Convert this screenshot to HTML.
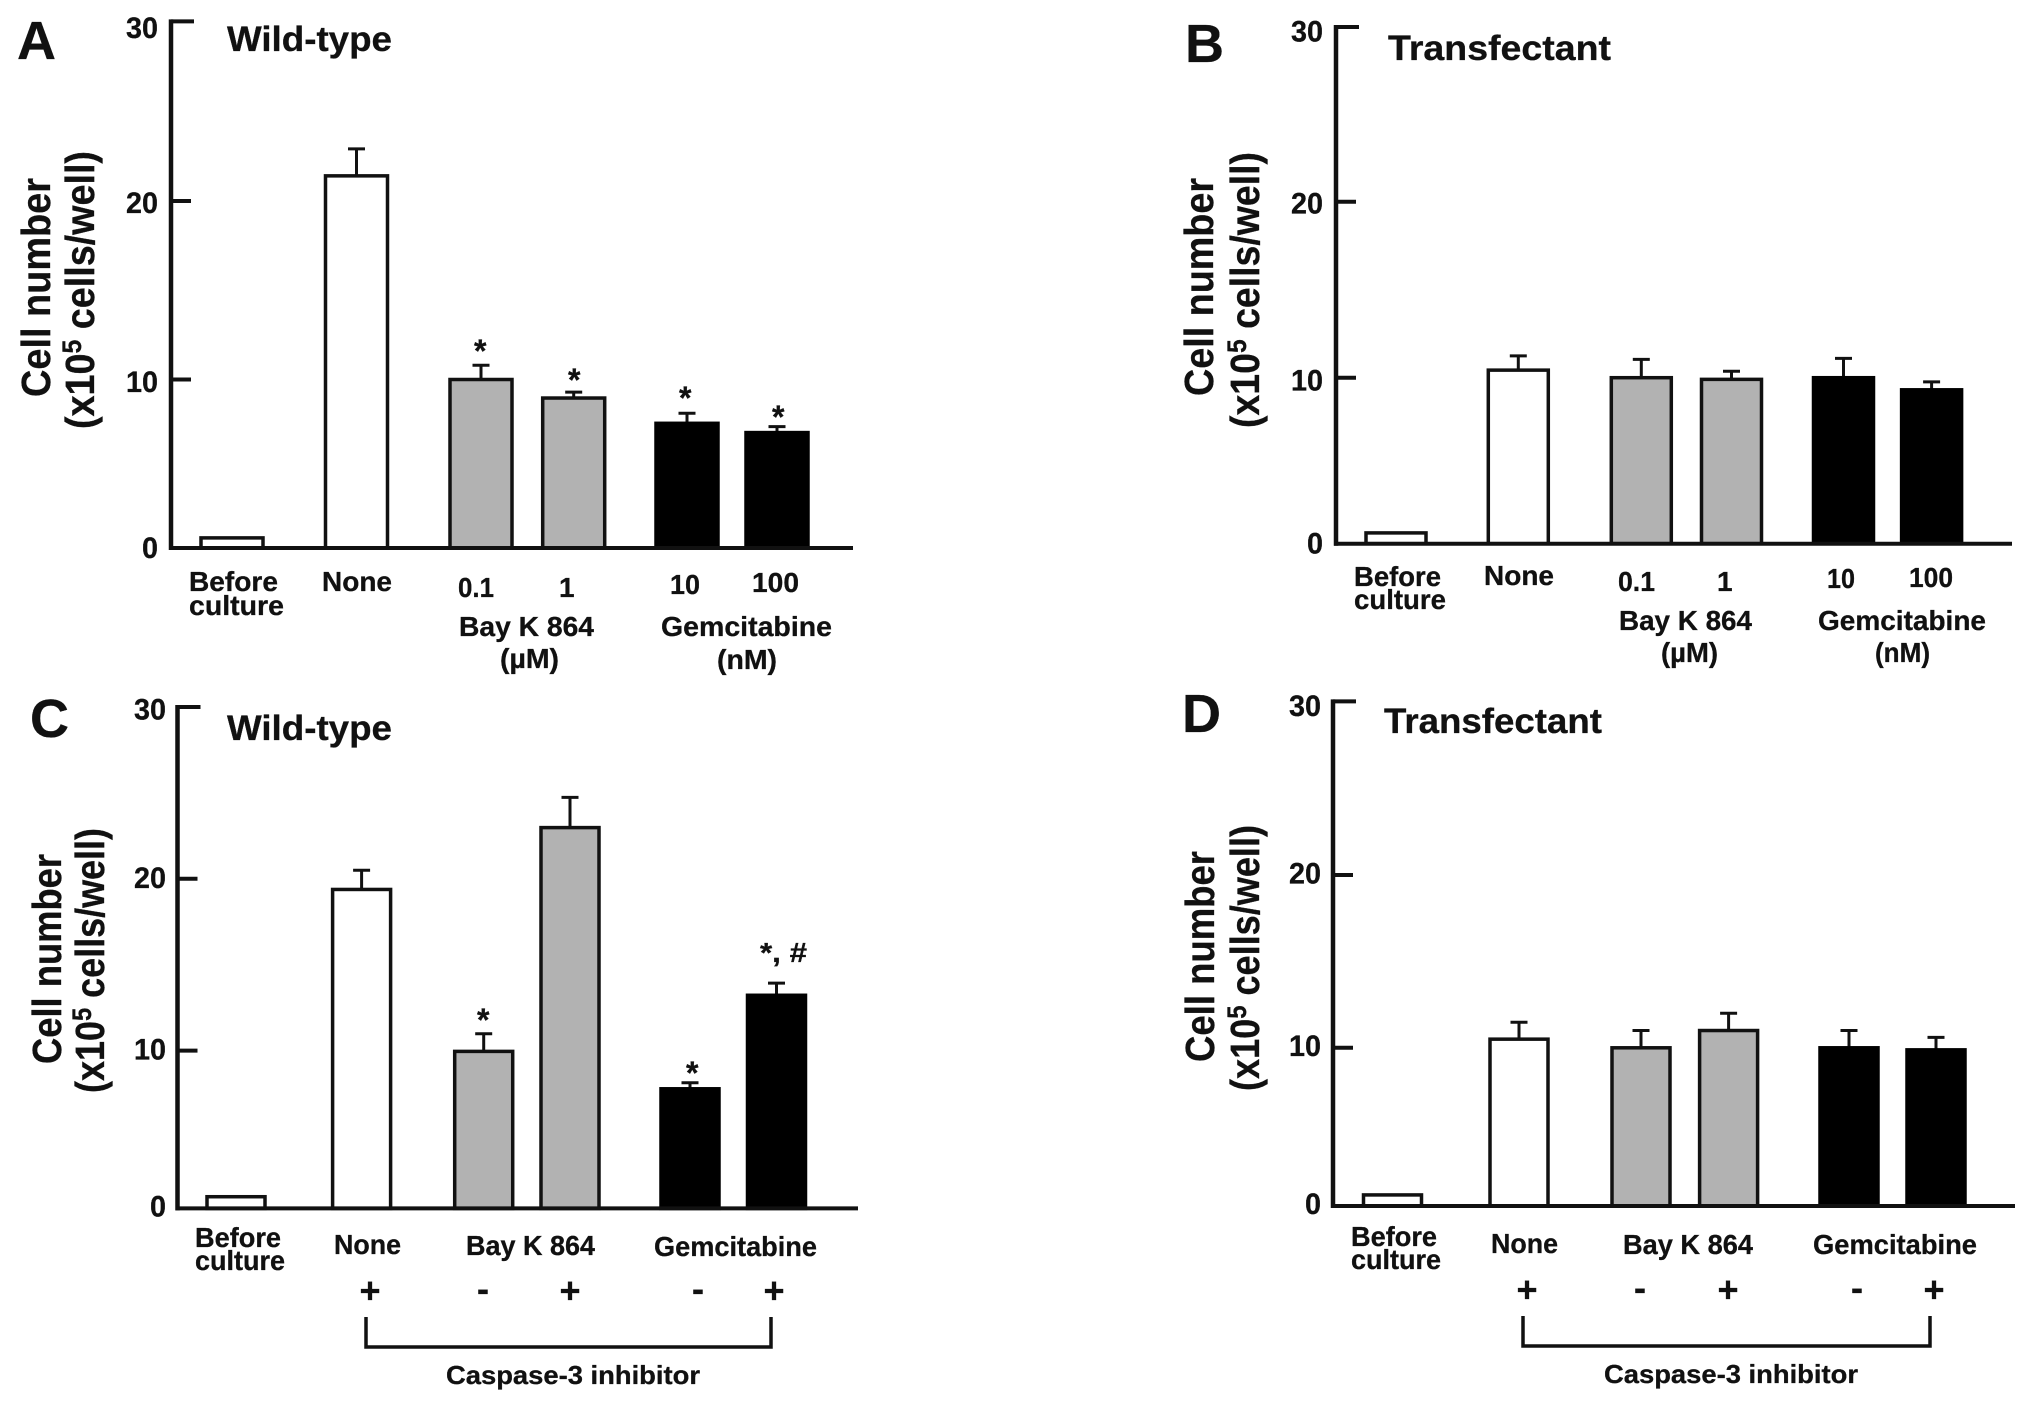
<!DOCTYPE html>
<html lang="en">
<head>
<meta charset="utf-8">
<title>Cell number bar charts</title>
<style>
html,body{margin:0;padding:0;background:#fff;width:2031px;height:1410px;overflow:hidden}
svg{display:block}
text{font-family:"Liberation Sans",Arial,sans-serif;font-weight:700;fill:#111;stroke:#111;stroke-width:.3px}
.lab{font-size:28px}
.ttl{font-size:35px}
.let{font-size:54px}
.yt{font-size:41px}
.cas{font-size:26px}
.sig{font-size:32px}
.sgn{font-size:36px;text-anchor:middle}
</style>
</head>
<body>
<svg id="figure" width="2031" height="1410" viewBox="0 0 2031 1410" xmlns="http://www.w3.org/2000/svg">
  <g id="marks"></g>

  <!-- Panel A -->
  <g>
    <text class="let" x="17" y="59">A</text>
    <text class="ttl" x="227" y="51" textLength="165" lengthAdjust="spacingAndGlyphs">Wild-type</text>
    <text class="yt" transform="translate(50,397) rotate(-90)" textLength="219" lengthAdjust="spacingAndGlyphs">Cell number</text>
    <text class="yt" transform="translate(94,429) rotate(-90)" textLength="278" lengthAdjust="spacingAndGlyphs">(x10<tspan font-size="27" dy="-13">5</tspan><tspan dy="13"> cells/well)</tspan></text>
    <text class="lab" x="189" y="591" textLength="89" lengthAdjust="spacingAndGlyphs">Before</text>
    <text class="lab" x="189" y="615" textLength="95" lengthAdjust="spacingAndGlyphs">culture</text>
    <text class="lab" x="322" y="591" textLength="70" lengthAdjust="spacingAndGlyphs">None</text>
    <text class="lab" x="458" y="597" textLength="36" lengthAdjust="spacingAndGlyphs">0.1</text>
    <text class="lab" x="559" y="597">1</text>
    <text class="lab" x="670" y="594" textLength="30" lengthAdjust="spacingAndGlyphs">10</text>
    <text class="lab" x="752" y="592" textLength="47" lengthAdjust="spacingAndGlyphs">100</text>
    <text class="lab" x="459" y="636" textLength="135" lengthAdjust="spacingAndGlyphs">Bay K 864</text>
    <text class="lab" x="500" y="668" textLength="59" lengthAdjust="spacingAndGlyphs">(µM)</text>
    <text class="lab" x="661" y="636" textLength="171" lengthAdjust="spacingAndGlyphs">Gemcitabine</text>
    <text class="lab" x="717" y="669" textLength="60" lengthAdjust="spacingAndGlyphs">(nM)</text>
    <text class="sig" x="474" y="362">*</text>
    <text class="sig" x="568" y="391">*</text>
    <text class="sig" x="679" y="409">*</text>
    <text class="sig" x="772" y="428">*</text>
  </g>

  <!-- Panel B -->
  <g>
    <text class="let" x="1185" y="62">B</text>
    <text class="ttl" x="1388" y="60" textLength="223" lengthAdjust="spacingAndGlyphs">Transfectant</text>
    <text class="yt" transform="translate(1213,396) rotate(-90)" textLength="218" lengthAdjust="spacingAndGlyphs">Cell number</text>
    <text class="yt" transform="translate(1259,428) rotate(-90)" textLength="276" lengthAdjust="spacingAndGlyphs">(x10<tspan font-size="27" dy="-13">5</tspan><tspan dy="13"> cells/well)</tspan></text>
    <text class="lab" x="1354" y="586" textLength="87" lengthAdjust="spacingAndGlyphs">Before</text>
    <text class="lab" x="1354" y="609" textLength="92" lengthAdjust="spacingAndGlyphs">culture</text>
    <text class="lab" x="1484" y="585" textLength="70" lengthAdjust="spacingAndGlyphs">None</text>
    <text class="lab" x="1618" y="591" textLength="37" lengthAdjust="spacingAndGlyphs">0.1</text>
    <text class="lab" x="1717" y="591">1</text>
    <text class="lab" x="1827" y="588" textLength="28" lengthAdjust="spacingAndGlyphs">10</text>
    <text class="lab" x="1909" y="587" textLength="44" lengthAdjust="spacingAndGlyphs">100</text>
    <text class="lab" x="1619" y="630" textLength="133" lengthAdjust="spacingAndGlyphs">Bay K 864</text>
    <text class="lab" x="1661" y="662" textLength="57" lengthAdjust="spacingAndGlyphs">(µM)</text>
    <text class="lab" x="1818" y="630" textLength="168" lengthAdjust="spacingAndGlyphs">Gemcitabine</text>
    <text class="lab" x="1875" y="662" textLength="55" lengthAdjust="spacingAndGlyphs">(nM)</text>
  </g>

  <!-- Panel C -->
  <g>
    <text class="let" x="30" y="737">C</text>
    <text class="ttl" x="227" y="740" textLength="165" lengthAdjust="spacingAndGlyphs">Wild-type</text>
    <text class="yt" transform="translate(61,1064) rotate(-90)" textLength="210" lengthAdjust="spacingAndGlyphs">Cell number</text>
    <text class="yt" transform="translate(104,1093) rotate(-90)" textLength="265" lengthAdjust="spacingAndGlyphs">(x10<tspan font-size="27" dy="-13">5</tspan><tspan dy="13"> cells/well)</tspan></text>
    <text class="lab" x="195" y="1247" textLength="86" lengthAdjust="spacingAndGlyphs">Before</text>
    <text class="lab" x="195" y="1270" textLength="90" lengthAdjust="spacingAndGlyphs">culture</text>
    <text class="lab" x="334" y="1254" textLength="67" lengthAdjust="spacingAndGlyphs">None</text>
    <text class="lab" x="466" y="1255" textLength="129" lengthAdjust="spacingAndGlyphs">Bay K 864</text>
    <text class="lab" x="654" y="1256" textLength="163" lengthAdjust="spacingAndGlyphs">Gemcitabine</text>
    <text class="sgn" x="370" y="1303">+</text>
    <text class="sgn" x="483" y="1301">-</text>
    <text class="sgn" x="570" y="1303">+</text>
    <text class="sgn" x="698" y="1301">-</text>
    <text class="sgn" x="774" y="1303">+</text>
    <text class="cas" x="446" y="1384" textLength="254" lengthAdjust="spacingAndGlyphs">Caspase-3 inhibitor</text>
    <text class="sig" x="477" y="1031">*</text>
    <text class="sig" x="686" y="1084">*</text>
    <text class="sig" x="760" y="962" textLength="47" lengthAdjust="spacingAndGlyphs" style="font-size:28px">*, #</text>
  </g>

  <!-- Panel D -->
  <g>
    <text class="let" x="1182" y="732">D</text>
    <text class="ttl" x="1384" y="733" textLength="218" lengthAdjust="spacingAndGlyphs">Transfectant</text>
    <text class="yt" transform="translate(1214,1062) rotate(-90)" textLength="211" lengthAdjust="spacingAndGlyphs">Cell number</text>
    <text class="yt" transform="translate(1259,1091) rotate(-90)" textLength="266" lengthAdjust="spacingAndGlyphs">(x10<tspan font-size="27" dy="-13">5</tspan><tspan dy="13"> cells/well)</tspan></text>
    <text class="lab" x="1351" y="1246" textLength="86" lengthAdjust="spacingAndGlyphs">Before</text>
    <text class="lab" x="1351" y="1269" textLength="90" lengthAdjust="spacingAndGlyphs">culture</text>
    <text class="lab" x="1491" y="1253" textLength="67" lengthAdjust="spacingAndGlyphs">None</text>
    <text class="lab" x="1623" y="1254" textLength="130" lengthAdjust="spacingAndGlyphs">Bay K 864</text>
    <text class="lab" x="1813" y="1254" textLength="164" lengthAdjust="spacingAndGlyphs">Gemcitabine</text>
    <text class="sgn" x="1527" y="1302">+</text>
    <text class="sgn" x="1640" y="1300">-</text>
    <text class="sgn" x="1728" y="1302">+</text>
    <text class="sgn" x="1857" y="1300">-</text>
    <text class="sgn" x="1934" y="1302">+</text>
    <text class="cas" x="1604" y="1383" textLength="254" lengthAdjust="spacingAndGlyphs">Caspase-3 inhibitor</text>
  </g>
</svg>

<script>
// ---- chart data ----
const tickValues = [0, 10, 20, 30];
const tickLabels = ['0', '10', '20', '30'];
const barGroups = ['control', 'control', 'bay', 'bay', 'gem', 'gem'];
const valuesA = [0.6, 21.4, 10.0, 8.9, 7.4, 6.85];
const errorsA = [0, 1.5, 0.8, 0.35, 0.6, 0.35];
const valuesB = [0.65, 10.43, 10.0, 9.9, 10.0, 9.27];
const errorsB = [0, 0.81, 1.04, 0.47, 1.1, 0.48];
const valuesC = [0.74, 19.38, 9.95, 22.98, 7.58, 13.22];
const errorsC = [0, 1.12, 1.03, 1.76, 0.38, 0.71];
const valuesD = [0.7, 10.5, 10.0, 11.0, 10.0, 9.87];
const errorsD = [0, 0.98, 1.0, 1.0, 1.0, 0.73];

// ---- layout (kept apart from the data) ----
const fills = { control: '#ffffff', bay: '#b2b2b2', gem: '#000000' };
const panels = [
  { id: 'a', values: valuesA, errors: errorsA, axisX: 171, axisEnd: 853,
    axisPx: [548, 379.5, 201, 21.4], labelBase: [558, 392, 213, 38], labelX: 158,
    slots: [232, 356.5, 481, 573.7, 687, 777], barW: 62 },
  { id: 'b', values: valuesB, errors: errorsB, axisX: 1336, axisEnd: 2012,
    axisPx: [543.7, 377.7, 201.8, 27], labelBase: [553.6, 390.6, 213.4, 41.5], labelX: 1323,
    slots: [1396, 1518.3, 1641.3, 1731.5, 1843.5, 1931.6], barW: 60 },
  { id: 'c', values: valuesC, errors: errorsC, axisX: 177.5, axisEnd: 858,
    axisPx: [1208.4, 1050.6, 878.8, 707], labelBase: [1216.3, 1059.4, 888, 719.6], labelX: 166,
    slots: [236, 361.6, 483.7, 570, 690, 776.5], barW: 58 },
  { id: 'd', values: valuesD, errors: errorsD, axisX: 1333, axisEnd: 2015,
    axisPx: [1206, 1047.8, 875, 701.4], labelBase: [1214, 1056, 883.4, 716], labelX: 1321,
    slots: [1392.5, 1519, 1641, 1728.6, 1849, 1936], barW: 58 }
];
const brackets = [
  { left: 366, right: 771, top: 1317, bottom: 1347 },
  { left: 1523, right: 1930, top: 1316, bottom: 1346 }
];

const NS = 'http://www.w3.org/2000/svg';
const root = document.getElementById('marks');

function make(tag, parent, attrs) {
  const node = document.createElementNS(NS, tag);
  for (const k in attrs) node.setAttribute(k, attrs[k]);
  parent.appendChild(node);
  return node;
}

// piecewise-linear value axis: the printed axis has unequal tick spacing
function yScale(panel, v) {
  const t = tickValues, p = panel.axisPx;
  let i = 0;
  while (i < t.length - 2 && v > t[i + 1]) i++;
  return p[i] + (v - t[i]) / (t[i + 1] - t[i]) * (p[i + 1] - p[i]);
}
function xScale(panel, i) {
  return panel.slots[i];
}

panels.forEach(function (panel) {
  const g = make('g', root, {});
  
  

  const y0 = yScale(panel, 0);

  panel.values.forEach(function (v, i) {
    const cx = xScale(panel, i);
    const group = barGroups[i];
    const top = yScale(panel, v);
    const hi = yScale(panel, v + panel.errors[i]);

    if (panel.errors[i] > 0) {
      const stem = make('line', g, { x1: cx, x2: cx, y1: top, y2: hi, stroke: '#111', 'stroke-width': 3 });
      
      
      const cap = make('line', g, { x1: cx - 8.5, x2: cx + 8.5, y1: hi, y2: hi, stroke: '#111', 'stroke-width': 3 });
      
      
    }

    const bar = make('rect', g, {
      x: cx - panel.barW / 2, y: top, width: panel.barW, height: y0 - top,
      fill: fills[group], stroke: group === 'gem' ? '#000' : '#111', 'stroke-width': 3.5
    });
    
    
  });

  const yAxis = make('line', g, {
    x1: panel.axisX, x2: panel.axisX, y1: panel.axisPx[3] - 2, y2: y0 + 2, stroke: '#111', 'stroke-width': 4.5
  });
  
  

  const xAxis = make('line', g, {
    x1: panel.axisX - 2, x2: panel.axisEnd, y1: y0, y2: y0, stroke: '#111', 'stroke-width': 4
  });
  
  

  tickValues.forEach(function (tv, i) {
    const py = yScale(panel, tv);
    if (tv > 0) {
      const tick = make('line', g, {
        x1: panel.axisX, x2: panel.axisX + (tv === 30 ? 23 : 20), y1: py, y2: py, stroke: '#111', 'stroke-width': 4
      });
      
      
    }
    const lab = make('text', g, {
      x: panel.labelX, y: panel.labelBase[i], 'text-anchor': 'end', 'font-size': 30,
      textLength: tickLabels[i].length * 16, lengthAdjust: 'spacingAndGlyphs'
    });
    lab.textContent = tickLabels[i];
    
    
  });
});

brackets.forEach(function (b) {
  const path = make('path', root, {
    d: 'M' + b.left + ' ' + b.top + 'V' + b.bottom + 'H' + b.right + 'V' + b.top,
    fill: 'none', stroke: '#111', 'stroke-width': 3.5
  });
  
  
});
</script>
</body>
</html>
